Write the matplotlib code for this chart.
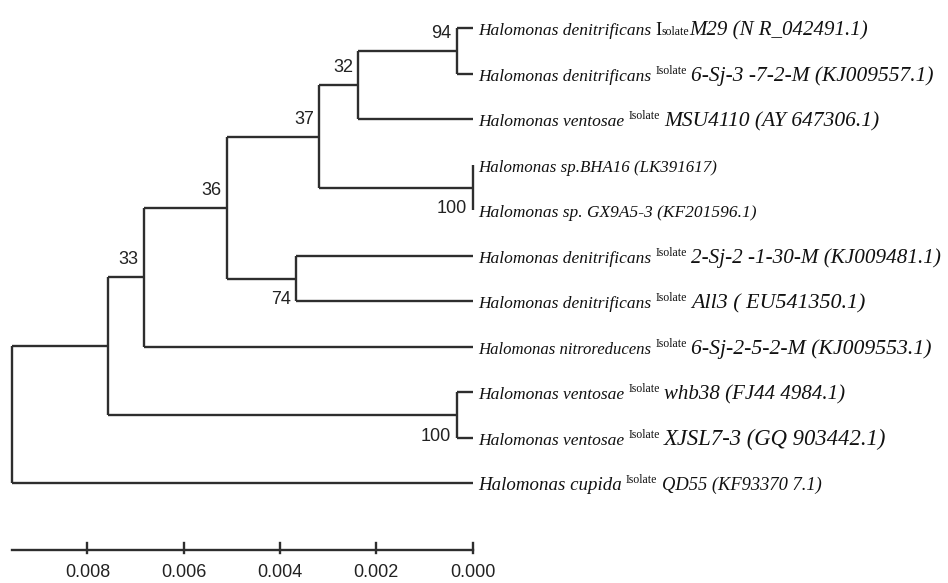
import matplotlib
matplotlib.use('Agg')
import matplotlib.pyplot as plt
from matplotlib.transforms import offset_copy

# leaf labels, top to bottom
species = ['Halomonas denitrificans', 'Halomonas denitrificans', 'Halomonas ventosae',
           'Halomonas sp.BHA16 (LK391617)', 'Halomonas sp. GX9A5-3 (KF201596.1)',
           'Halomonas denitrificans', 'Halomonas denitrificans', 'Halomonas nitroreducens',
           'Halomonas ventosae', 'Halomonas ventosae', 'Halomonas cupida']
isolates = ['M29', '6-Sj-3 -7-2-M', 'MSU4110', '', '', '2-Sj-2 -1-30-M', 'All3',
            '6-Sj-2-5-2-M', 'whb38', 'XJSL7-3', 'QD55']
accessions = ['(N R_042491.1)', '(KJ009557.1)', '(AY 647306.1)', '', '', '(KJ009481.1)',
              '( EU541350.1)', '(KJ009553.1)', '(FJ44 4984.1)', '(GQ 903442.1)', '(KF93370 7.1)']

# internal nodes: name -> (height from tips, children, bootstrap)
nodes = {
    'n94':  (0.00033, ['L0', 'L1'], 94),
    'n32':  (0.00237, ['n94', 'L2'], 32),
    'nbha': (0.0, ['L3', 'L4'], 100),
    'n37':  (0.00318, ['n32', 'nbha'], 37),
    'n74':  (0.00366, ['L5', 'L6'], 74),
    'n36':  (0.00511, ['n37', 'n74'], 36),
    'n33':  (0.00682, ['n36', 'L7'], 33),
    'nven': (0.00033, ['L8', 'L9'], 100),
    'nA':   (0.00758, ['n33', 'nven'], None),
    'root': (0.00956, ['nA', 'L10'], None),
}
scale_ticks = [0.008, 0.006, 0.004, 0.002, 0.000]

# where the bootstrap label goes (above / below the node)
below = {'nbha', 'n74', 'nven'}
# font sizes of the name part and the isolate/accession part of each label
sp_size = [12.5, 12.5, 12.6, 12.2, 12.5, 12.5, 12.5, 12.1, 12.6, 12.6, 13.6]
id_size = [15.0, 15.4, 15.5, 0, 0, 15.2, 15.8, 15.7, 15.0, 16.3, 13.3]

line_col = '#2e2e2e'
serif = ['Liberation Serif', 'DejaVu Serif']
narrow = ['Liberation Sans Narrow', 'Liberation Sans', 'DejaVu Sans']

fig = plt.figure(figsize=(9.48, 5.83), dpi=100)
ax = fig.add_axes([0, 0, 1, 1])
ax.set_xlim(0.009818, -0.00988)
ax.set_ylim(12.187, -0.626)
ax.axis('off')

ypos = {}
hgt = {}
for i in range(len(species)):
    ypos['L%d' % i] = i
    hgt['L%d' % i] = 0.0


def place(name):
    if name in ypos:
        return ypos[name]
    h, kids, _ = nodes[name]
    ys = [place(k) for k in kids]
    ypos[name] = sum(ys) / len(ys)
    hgt[name] = h
    return ypos[name]


place('root')
lw = 1.7
for name, (h, kids, sup) in nodes.items():
    ys = [ypos[k] for k in kids]
    ax.plot([h, h], [min(ys), max(ys)], color=line_col, lw=lw, solid_capstyle='butt')
    for k in kids:
        ax.plot([h, hgt[k]], [ypos[k], ypos[k]], color=line_col, lw=lw, solid_capstyle='butt')
    if sup is not None:
        dy = -15 if name in below else 12.5
        ax.annotate(str(sup), (h, ypos[name]), xytext=(-4, dy), textcoords='offset points',
                    ha='right', va='center', fontsize=13, family=narrow, fontstretch='condensed',
                    color='#222222')

# scale bar
sy = 11.46
ax.plot([nodes['root'][0], 0.0], [sy, sy], color=line_col, lw=lw)
for t in scale_ticks:
    ax.plot([t, t], [sy - 0.16, sy + 0.06], color=line_col, lw=lw)
    ax.text(t, sy + 0.5, '%.3f' % t, ha='center', va='center', fontsize=13,
            family=narrow, fontstretch='condensed', color='#222222')

# leaf labels, written piece by piece
fig.canvas.draw()
renderer = fig.canvas.get_renderer()


def write_parts(y, parts):
    dx = 4.0
    for s, size, style, gap, rise in parts:
        dx += gap
        tr = offset_copy(ax.transData, fig=fig, x=dx, y=-5.0 + rise, units='points')
        t = ax.text(0.0, y, s, transform=tr, ha='left', va='baseline', fontsize=size,
                    style=style, family=serif, color='#111111')
        dx += t.get_window_extent(renderer).width * 72.0 / fig.dpi


for i, sp in enumerate(species):
    base = sp_size[i]
    if not isolates[i]:
        write_parts(i, [(sp, base, 'italic', 0, 0)])
        continue
    tail = isolates[i] + ' ' + accessions[i]
    if i == 0:
        parts = [(sp, base, 'italic', 0, 0), ('I', base + 1, 'normal', 3, 0),
                 ('solate', 8.5, 'normal', 0, 0), (tail, id_size[i], 'italic', 0, 0)]
    else:
        parts = [(sp, base, 'italic', 0, 0), ('Isolate', 8.5, 'normal', 3, 5),
                 (tail, id_size[i], 'italic', 3, 0)]
    write_parts(i, parts)

fig.savefig('out.png', dpi=100, facecolor='white')
